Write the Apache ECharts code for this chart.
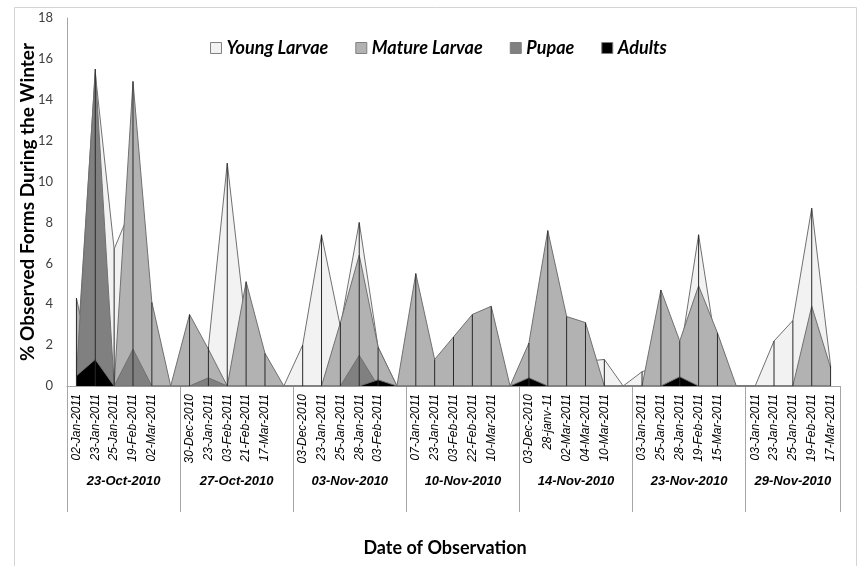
<!DOCTYPE html>
<html><head><meta charset="utf-8">
<script src="https://cdn.jsdelivr.net/npm/echarts@6/dist/echarts.min.js"></script>
<style>html,body{margin:0;padding:0;background:#fff}#c{width:862px;height:566px}</style>
</head><body><div id="c"></div>
<script>
// Category labels (blank '' = gap between observation batches)
const dateLabels = [
 '02-Jan-2011','23-Jan-2011','25-Jan-2011','19-Feb-2011','02-Mar-2011','',
 '30-Dec-2010','23-Jan-2011','03-Feb-2011','21-Feb-2011','17-Mar-2011','',
 '03-Dec-2010','23-Jan-2011','25-Jan-2011','28-Jan-2011','03-Feb-2011','',
 '07-Jan-2011','23-Jan-2011','03-Feb-2011','22-Feb-2011','10-Mar-2011','',
 '03-Dec-2010','28-janv-11','02-Mar-2011','04-Mar-2011','10-Mar-2011','',
 '03-Jan-2011','25-Jan-2011','28-Jan-2011','19-Feb-2011','15-Mar-2011','',
 '03-Jan-2011','23-Jan-2011','25-Jan-2011','19-Feb-2011','17-Mar-2011'
];
const groupLabels = ['23-Oct-2010','27-Oct-2010','03-Nov-2010','10-Nov-2010','14-Nov-2010','23-Nov-2010','29-Nov-2010'];
const seriesNames = ['Young Larvae','Mature Larvae','Pupae','Adults'];
const youngLarvae = [
 1.0,15.3,6.7,8.9,2.0,0,
 0,1.9,10.9,2.8,0,0,
 2.0,7.4,2.9,8.0,1.9,0,
 0,0,0,0,0,0,
 0,0,0,1.2,1.3,0,
 0.7,1.0,1.4,7.4,1.5,0,
 0,2.2,3.2,8.7,1.0
];
const matureLarvae = [
 4.3,0,0,14.9,4.1,0,
 3.5,1.8,0,5.1,1.6,0,
 0,0,3.1,6.4,1.9,0,
 5.5,1.3,2.4,3.5,3.9,0,
 2.1,7.6,3.4,3.1,0,0,
 0,4.7,2.2,4.9,2.6,0,
 0,0,0,3.9,0.9
];
const pupae = [
 0.5,15.5,0,1.8,0,0,
 0,0.4,0,0,0,0,
 0,0,0,1.5,0,0,
 0,0,0,0,0,0,
 0,0,0,0,0,0,
 0,0,0,0,0,0,
 0,0,0,0,0
];
const adults = [
 0.5,1.3,0,0,0,0,
 0,0,0,0,0,0,
 0,0,0,0,0.3,0,
 0,0,0,0,0,0,
 0.4,0,0,0,0,0,
 0,0,0.45,0,0,0,
 0,0,0,0,0
];
const yMin = 0, yMax = 18, yStep = 2;

// group boundaries derived from the gap categories
const bounds = [0];
dateLabels.forEach((d, i) => { if (d === '') bounds.push(i + 1); });
bounds.push(dateLabels.length);
const centers = [];
for (let k = 0; k < bounds.length - 1; k++) centers.push((bounds[k] + bounds[k + 1]) / 2);
const dropLines = dateLabels.map((_, i) => Math.max(youngLarvae[i], matureLarvae[i], pupae[i], adults[i]));

const fills = ['#f2f2f2', '#b2b2b2', '#808080', '#000000'];
const datas = [youngLarvae, matureLarvae, pupae, adults];

const chart = echarts.init(document.getElementById('c'), null, {renderer: 'canvas'});
const areaSeries = seriesNames.map((n, k) => ({
  name: n, type: 'line', xAxisIndex: 0, data: datas[k], symbol: 'none', z: 2 + k * 0.1,
  lineStyle: {color: '#707070', width: 1},
  itemStyle: {color: fills[k], borderColor: '#7a7a7a', borderWidth: 1},
  areaStyle: {color: fills[k], opacity: 1},
  animation: false
}));
areaSeries.push({
  name: 'drop', type: 'bar', xAxisIndex: 0, data: dropLines, barWidth: 1, z: 5,
  itemStyle: {color: '#2a2a2a'}, animation: false, silent: true
});

chart.setOption({
  animation: false,
  backgroundColor: '#ffffff',
  grid: {left: 67, right: 22, top: 18, bottom: 180},
  legend: {
    data: seriesNames, left: 205, top: 34, icon: 'rect', itemWidth: 11, itemHeight: 11, itemGap: 27,
    textStyle: {fontFamily: 'Lato', fontWeight: 'bold', fontStyle: 'italic', fontSize: 18, color: '#000'},
    itemStyle: {borderColor: '#808080', borderWidth: 1}
  },
  xAxis: [{
    type: 'category', data: dateLabels, position: 'bottom', boundaryGap: true,
    axisLine: {lineStyle: {color: '#a6a6a6', width: 1}},
    axisTick: {show: false},
    axisLabel: {interval: 0, rotate: 90, margin: 8, fontFamily: 'Liberation Sans', fontStyle: 'italic', fontSize: 12, color: '#000'}
  }, {
    type: 'value', min: 0, max: dateLabels.length, position: 'bottom',
    axisLine: {show: false}, splitLine: {show: false},
    axisTick: {show: true, customValues: bounds, length: 126, lineStyle: {color: '#a6a6a6'}},
    axisLabel: {
      customValues: centers, margin: 89,
      formatter: v => { const i = centers.indexOf(v); return i >= 0 ? groupLabels[i] : ''; },
      fontFamily: 'Liberation Sans', fontStyle: 'italic', fontWeight: 'bold', fontSize: 13, color: '#000'
    }
  }],
  yAxis: {
    type: 'value', min: yMin, max: yMax, interval: yStep,
    name: '% Observed Forms During the Winter', nameLocation: 'middle', nameGap: 30, nameMoveOverlap: false,
    nameTextStyle: {fontFamily: 'Lato', fontWeight: 'bold', fontSize: 19, color: '#000'},
    axisLine: {show: true, lineStyle: {color: '#a6a6a6'}},
    axisTick: {show: false}, splitLine: {show: false},
    axisLabel: {margin: 14, fontFamily: 'Lato', fontSize: 13, color: '#404040'}
  },
  graphic: [
    {type: 'rect', silent: true, shape: {x: 14.5, y: 7.5, width: 842, height: 600}, style: {fill: null, stroke: '#d4d4d4', lineWidth: 1}},
    {type: 'text', silent: true, x: 445, y: 548, style: {text: 'Date of Observation', fontFamily: 'Lato', fontWeight: 'bold', fontSize: 18, fill: '#000', align: 'center', verticalAlign: 'middle'}}
  ],
  series: areaSeries
});
</script></body></html>
